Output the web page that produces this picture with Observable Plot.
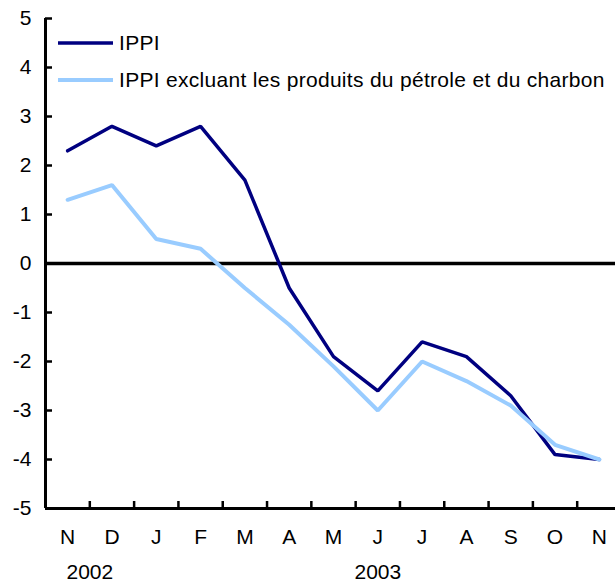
<!DOCTYPE html>
<html>
<head>
<meta charset="utf-8">
<script src="https://cdn.jsdelivr.net/npm/d3@7"></script>
<script src="https://cdn.jsdelivr.net/npm/@observablehq/plot@0.6"></script>
<style>
  html, body { margin: 0; padding: 0; background: #fff; overflow: hidden; }
  #chart { width: 615px; height: 583px; position: relative; }
</style>
</head>
<body>
<div id="chart"></div>
<script>
const months = ["N","D","J","F","M","A","M","J","J","A","S","O","N"];
const monthYears = ["2002","2002","2003","2003","2003","2003","2003","2003","2003","2003","2003","2003","2003"];
const ippi = [2.3, 2.8, 2.4, 2.8, 1.7, -0.5, -1.9, -2.6, -1.6, -1.9, -2.7, -3.9, -4.0];
const ippiExcl = [1.3, 1.6, 0.5, 0.3, -0.5, -1.25, -2.1, -3.0, -2.0, -2.4, -2.9, -3.7, -4.0];
const seriesNames = ["IPPI", "IPPI excluant les produits du pétrole et du charbon"];
const seriesColors = ["#000080", "#99CCFF"];
const yTicks = [-5, -4, -3, -2, -1, 0, 1, 2, 3, 4, 5];

const font = "'Liberation Sans', Arial, sans-serif";
const fs = 21;

const data = [];
months.forEach((m, i) => {
  data.push({i, series: seriesNames[0], value: ippi[i]});
  data.push({i, series: seriesNames[1], value: ippiExcl[i]});
});

// year labels centred on the months belonging to each year
const yearLabels = Array.from(d3.group(months.map((m, i) => ({i, year: monthYears[i]})), d => d.year),
  ([year, arr]) => ({year, x: d3.mean(arr, d => d.i)}));

const boundaries = d3.range(months.length).map(i => i + 0.5);

const plot = Plot.plot({
  width: 615,
  height: 583,
  marginLeft: 45,
  marginRight: 0,
  marginTop: 18,
  marginBottom: 75,
  style: {fontFamily: font, fontSize: fs + "px", color: "#000", background: "#fff"},
  x: {type: "linear", domain: [-0.5, months.length - 0.5], range: [45, 621], axis: null},
  y: {domain: [-5, 5], axis: null},
  marks: [
    // y axis tick labels
    Plot.axisY({ticks: yTicks, tickSize: 0, tickPadding: 14, tickFormat: d => String(d), fontSize: fs, anchor: "left", label: null}),
    // y axis ticks (inward)
    Plot.axisY({ticks: yTicks, tickSize: 7, tickFormat: () => "", anchor: "left", dx: 7, strokeWidth: 2.5, label: null}),
    // x axis ticks (inward)
    Plot.axisX({ticks: boundaries, tickSize: 7, tickFormat: () => "", anchor: "bottom", dy: -7, strokeWidth: 2.5, label: null}),
    // x month labels
    Plot.axisX({ticks: d3.range(months.length), tickSize: 0, tickPadding: 21, tickFormat: i => months[i], fontSize: fs, anchor: "bottom", label: null}),
    // year labels
    Plot.text(yearLabels, {x: "x", text: "year", frameAnchor: "bottom", lineAnchor: "middle", dy: 64, fontSize: fs}),
    // axis lines
    Plot.ruleY([-5], {stroke: "#000", strokeWidth: 3}),
    Plot.ruleX([-0.5], {y1: -5, y2: 5, stroke: "#000", strokeWidth: 3}),
    Plot.ruleY([0], {stroke: "#000", strokeWidth: 3.5}),
    // series
    Plot.line(data.filter(d => d.series === seriesNames[0]), {x: "i", y: "value", stroke: seriesColors[0], strokeWidth: 3.5, strokeLinejoin: "miter"}),
    Plot.line(data.filter(d => d.series === seriesNames[1]), {x: "i", y: "value", stroke: seriesColors[1], strokeWidth: 4, strokeLinejoin: "miter"})
  ]
});

// legend inside the plot area
const svg = d3.select(plot);
const lg = svg.append("g").attr("font-family", font).attr("font-size", fs).attr("text-anchor", "start");
seriesNames.forEach((name, k) => {
  const y = 43 + k * 37;
  lg.append("line").attr("x1", 58).attr("x2", 113).attr("y1", y).attr("y2", y)
    .attr("stroke", seriesColors[k]).attr("stroke-width", k === 0 ? 3.5 : 4);
  lg.append("text").attr("x", 119).attr("y", y).attr("dy", "0.35em").attr("fill", "#000")
    .attr("text-anchor", "start").attr("letter-spacing", "0.3px").text(name);
});

document.getElementById("chart").appendChild(plot);
</script>
</body>
</html>
